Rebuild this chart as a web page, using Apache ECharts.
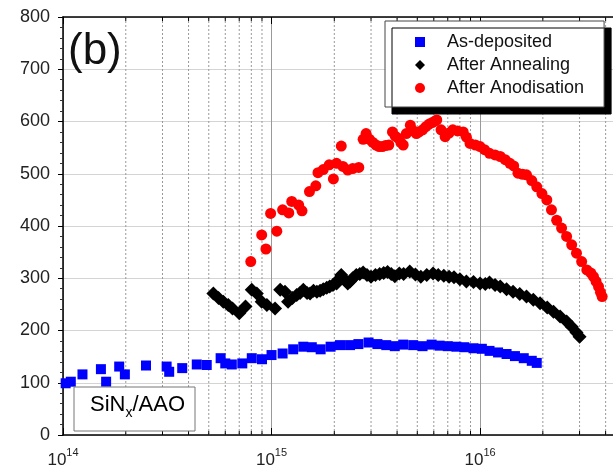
<!DOCTYPE html>
<html>
<head>
<meta charset="utf-8">
<script src="https://cdn.jsdelivr.net/npm/echarts@6/dist/echarts.min.js"></script>
<style>
  html, body { margin: 0; padding: 0; background: #fff; }
</style>
</head>
<body>
<div id="myechart" style="width:613px;height:472px;"></div>
<script>
// data: [x, y]
var asDeposited = [
  [1.03e14, 99], [1.09e14, 102], [1.24e14, 116], [1.52e14, 126], [1.61e14, 102],
  [1.86e14, 131], [1.98e14, 116], [2.5e14, 133], [3.14e14, 131], [3.23e14, 121],
  [3.73e14, 128], [4.38e14, 135], [4.89e14, 134], [5.7e14, 147], [6.0e14, 137],
  [6.45e14, 135], [7.24e14, 137], [8.04e14, 147], [9.0e14, 145], [1.0e15, 153],
  [1.13e15, 156], [1.27e15, 164], [1.42e15, 169], [1.56e15, 168], [1.72e15, 164],
  [1.92e15, 169], [2.13e15, 172], [2.38e15, 172], [2.61e15, 174], [2.92e15, 177],
  [3.22e15, 174], [3.55e15, 172], [3.9e15, 170], [4.28e15, 173], [4.78e15, 172],
  [5.3e15, 170], [5.86e15, 173], [6.4e15, 171], [7.0e15, 170], [7.7e15, 169],
  [8.4e15, 168], [9.3e15, 166], [1.02e16, 165], [1.11e16, 161], [1.22e16, 158],
  [1.34e16, 155], [1.47e16, 151], [1.62e16, 147], [1.77e16, 142], [1.87e16, 138]
];
var afterAnnealing = [
  [5.26e14, 271], [5.57e14, 262], [5.87e14, 255], [6.2e14, 249], [6.5e14, 242],
  [7.0e14, 233], [7.5e14, 246], [8.04e14, 278], [8.5e14, 271], [8.97e14, 255],
  [9.5e14, 249], [1.04e15, 242], [1.1e15, 278], [1.16e15, 274], [1.2e15, 255],
  [1.26e15, 262], [1.32e15, 268], [1.37e15, 272], [1.42e15, 278], [1.48e15, 272],
  [1.53e15, 271], [1.59e15, 276], [1.65e15, 274], [1.71e15, 276], [1.77e15, 279],
  [1.84e15, 282], [1.9e15, 284], [1.97e15, 287], [2.05e15, 290], [2.1e15, 298],
  [2.16e15, 306], [2.25e15, 296], [2.32e15, 290], [2.38e15, 294], [2.45e15, 300],
  [2.55e15, 306], [2.65e15, 308], [2.75e15, 311], [2.87e15, 306], [3.0e15, 303],
  [3.15e15, 306], [3.3e15, 308], [3.45e15, 310], [3.6e15, 312], [3.75e15, 308],
  [3.9e15, 304], [4.1e15, 309], [4.3e15, 308], [4.6e15, 313], [4.9e15, 307],
  [5.2e15, 303], [5.55e15, 306], [5.95e15, 309], [6.3e15, 306], [6.7e15, 305],
  [7.1e15, 303], [7.5e15, 302], [8.0e15, 298], [8.6e15, 294], [9.3e15, 293],
  [1.0e16, 290], [1.06e16, 289], [1.11e16, 292], [1.18e16, 287], [1.25e16, 284],
  [1.34e16, 279], [1.44e16, 274], [1.55e16, 270], [1.67e16, 265], [1.8e16, 259],
  [1.94e16, 252], [2.1e16, 244], [2.25e16, 236], [2.42e16, 227], [2.6e16, 217],
  [2.75e16, 207], [2.9e16, 196], [3.0e16, 188]
];
var afterAnodisation = [
  [7.95e14, 332], [8.97e14, 383], [9.4e14, 356], [9.9e14, 424], [1.06e15, 390],
  [1.13e15, 431], [1.21e15, 425], [1.25e15, 447], [1.35e15, 440], [1.40e15, 429],
  [1.52e15, 466], [1.63e15, 477], [1.67e15, 502], [1.77e15, 508], [1.89e15, 517],
  [1.98e15, 490], [2.05e15, 520], [2.16e15, 553], [2.2e15, 514], [2.32e15, 507],
  [2.45e15, 510], [2.62e15, 512], [2.75e15, 566], [2.84e15, 577], [2.95e15, 566],
  [3.06e15, 560], [3.17e15, 555], [3.28e15, 552], [3.4e15, 552], [3.52e15, 554],
  [3.65e15, 555], [3.8e15, 580], [3.92e15, 572], [4.05e15, 568], [4.17e15, 560],
  [4.28e15, 555], [4.43e15, 577], [4.63e15, 593], [4.8e15, 582], [4.95e15, 577],
  [5.1e15, 580], [5.3e15, 584], [5.5e15, 590], [5.7e15, 595], [5.9e15, 598],
  [6.1e15, 601], [6.2e15, 603], [6.5e15, 584], [6.8e15, 571], [7.1e15, 578],
  [7.4e15, 584], [7.8e15, 582], [8.3e15, 580], [8.6e15, 570], [8.95e15, 558],
  [9.5e15, 555], [1.0e16, 552], [1.05e16, 546], [1.11e16, 539], [1.18e16, 536],
  [1.25e16, 533], [1.32e16, 527], [1.39e16, 520], [1.45e16, 515], [1.52e16, 501],
  [1.6e16, 499], [1.67e16, 498], [1.77e16, 487], [1.87e16, 475], [1.98e16, 462],
  [2.09e16, 450], [2.2e16, 431], [2.33e16, 411], [2.46e16, 396], [2.6e16, 380],
  [2.75e16, 364], [2.9e16, 348], [3.07e16, 332], [3.25e16, 316], [3.4e16, 310],
  [3.5e16, 303], [3.6e16, 294], [3.7e16, 284], [3.78e16, 273], [3.85e16, 265]
];
// 2..9 x 10^n dotted grid positions
var minorTicks = [
  2e14, 3e14, 4e14, 5e14, 6e14, 7e14, 8e14, 9e14,
  2e15, 3e15, 4e15, 5e15, 6e15, 7e15, 8e15, 9e15,
  2e16, 3e16, 4e16
];
var seriesNames = ["As-deposited", "After Annealing", "After Anodisation"];

var font = "Liberation Sans";
var xMin = 1e14, xMax = 4.34e16;

function decadeLabel(v) {
    var e = Math.log10(v);
    if (Math.abs(e - Math.round(e)) > 1e-6) return "";
    return "{b|10}{s|" + Math.round(e) + "}";
}

let option = {
    animation: false,
    grid: { left: 63, right: 0, top: 17, bottom: 37 },
    legend: {
        data: seriesNames,
        orient: "vertical",
        left: 385,
        top: 21,
        padding: [11, 20, 9, 30],
        itemGap: 3,
        itemWidth: 10,
        itemHeight: 10,
        backgroundColor: "#fff",
        borderColor: "#444",
        borderWidth: 1,
        borderRadius: 0,
        shadowColor: "#000",
        shadowBlur: 0,
        shadowOffsetX: 7,
        shadowOffsetY: 7,
        textStyle: {
            fontFamily: font,
            fontSize: 18,
            color: "#111",
            lineHeight: 20,
            padding: [0, 0, 0, 17]
        }
    },
    xAxis: [
        {
            type: "log",
            logBase: 10,
            min: xMin,
            max: xMax,
            position: "bottom",
            axisLine: { show: true, lineStyle: { color: "#000", width: 1.5 } },
            axisTick: { show: true, inside: true, length: 7, lineStyle: { color: "#000" } },
            splitLine: { show: true, lineStyle: { color: "#999", width: 1 } },
            axisLabel: {
                margin: 12,
                showMaxLabel: false,
                formatter: decadeLabel,
                color: "#222",
                fontFamily: font,
                rich: {
                    b: { fontFamily: font, fontSize: 17, color: "#222", lineHeight: 22, verticalAlign: "bottom" },
                    s: { fontFamily: font, fontSize: 11, color: "#222", lineHeight: 10, verticalAlign: "top" }
                }
            }
        },
        {
            type: "log",
            logBase: 10,
            min: xMin,
            max: xMax,
            position: "top",
            axisLine: { show: true, lineStyle: { color: "#000", width: 1.5 } },
            axisTick: { show: true, inside: true, length: 7, lineStyle: { color: "#000" } },
            splitLine: { show: false },
            axisLabel: { show: false }
        }
    ],
    yAxis: {
        type: "value",
        min: 0,
        max: 800,
        interval: 100,
        axisLine: { show: true, lineStyle: { color: "#000", width: 1.5 } },
        axisTick: { show: true, inside: false, length: 5, lineStyle: { color: "#000" } },
        minorTick: { show: true, splitNumber: 5, length: 3, lineStyle: { color: "#333" } },
        splitLine: { show: true, lineStyle: { color: "#d4d4d4", width: 1 } },
        axisLabel: { margin: 13, color: "#222", fontFamily: font, fontSize: 18 }
    },
    graphic: [
        {
            type: "text",
            left: 68,
            top: 30,
            z: 10,
            style: { text: "(b)", fontFamily: font, fontSize: 44, fill: "#111" }
        },
        {
            type: "rect",
            shape: { x: 74, y: 387, width: 121, height: 44 },
            z: 10,
            style: { fill: "#fff", stroke: "#777", lineWidth: 1 }
        },
        {
            type: "text",
            left: 90,
            top: 394,
            z: 11,
            style: {
                text: "{a|SiN}{s|x}{a|/AAO}",
                rich: {
                    a: { fontFamily: font, fontSize: 22, color: "#111", lineHeight: 26, verticalAlign: "top" },
                    s: { fontFamily: font, fontSize: 14, color: "#111", lineHeight: 8, verticalAlign: "bottom" }
                }
            }
        }
    ],
    series: [
        {
            // dotted minor grid + small ticks top and bottom
            type: "custom",
            silent: true,
            z: 1,
            data: minorTicks.map(function (v) { return [v, 0]; }),
            encode: { x: 0, y: 1 },
            renderItem: function (params, api) {
                var x = api.value(0);
                var p0 = api.coord([x, 0]);
                var p1 = api.coord([x, 800]);
                return {
                    type: "group",
                    children: [
                        { type: "line", shape: { x1: p0[0], y1: p0[1], x2: p1[0], y2: p1[1] },
                          style: { stroke: "#999", lineWidth: 1, lineDash: [2, 2] } },
                        { type: "line", shape: { x1: p0[0], y1: p0[1], x2: p0[0], y2: p0[1] - 4 },
                          style: { stroke: "#000", lineWidth: 1 } },
                        { type: "line", shape: { x1: p1[0], y1: p1[1], x2: p1[0], y2: p1[1] + 4 },
                          style: { stroke: "#000", lineWidth: 1 } }
                    ]
                };
            }
        },
        {
            name: seriesNames[0],
            type: "scatter",
            symbol: "rect",
            symbolSize: 10,
            itemStyle: { color: "#0000ff", opacity: 1 },
            z: 3,
            data: asDeposited
        },
        {
            name: seriesNames[1],
            type: "scatter",
            symbol: "diamond",
            symbolSize: 14,
            itemStyle: { color: "#000", opacity: 1 },
            z: 4,
            data: afterAnnealing
        },
        {
            name: seriesNames[2],
            type: "scatter",
            symbol: "circle",
            symbolSize: 11,
            itemStyle: { color: "#ff0000", opacity: 1 },
            z: 5,
            data: afterAnodisation
        }
    ]
};

let myChart = echarts.init(document.getElementById("myechart"));
myChart.setOption(option);
</script>
</body>
</html>
